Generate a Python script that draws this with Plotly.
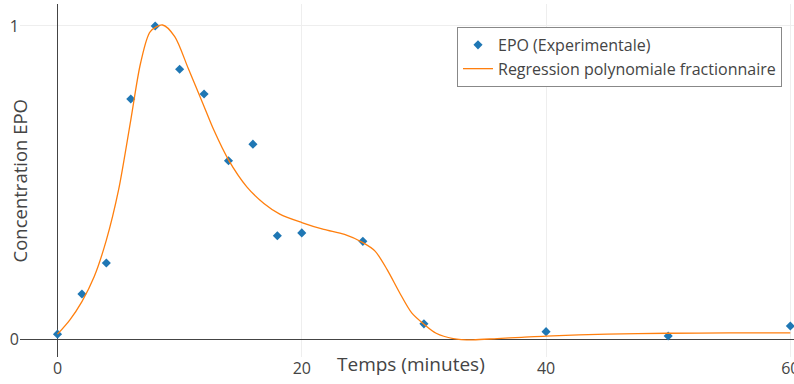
import plotly.graph_objects as go

# Experimental points
time_min = [0, 2, 4, 6, 8, 10, 12, 14, 16, 18, 20, 25, 30, 40, 50, 60]
epo_conc = [0.017, 0.145, 0.244, 0.767, 1.0, 0.862, 0.783, 0.570, 0.623,
            0.331, 0.340, 0.313, 0.050, 0.025, 0.011, 0.043]

# Fractional polynomial regression curve
fit_time = [0, 1, 2, 3, 4, 5, 6, 6.8, 7.6, 8.6, 9.6, 10.7, 11.9, 12.8,
            14, 15.5, 16.9, 18.2, 20, 21.8, 23.5, 25, 26, 27, 28, 29, 30, 31,
            32.4, 34, 36, 38, 40, 45, 50, 55, 60]
fit_conc = [0.017, 0.062, 0.121, 0.200, 0.317, 0.477, 0.700, 0.881, 0.982,
            1.003, 0.966, 0.865, 0.753, 0.668, 0.573, 0.487, 0.434,
            0.400, 0.373, 0.351, 0.335, 0.309, 0.282, 0.222, 0.150, 0.085,
            0.049, 0.020, 0.003, -0.001, 0.003, 0.007, 0.011, 0.017, 0.020,
            0.021, 0.021]

x_ticks = [0, 20, 40, 60]
y_ticks = [0, 1]

fig = go.Figure()
fig.add_trace(go.Scatter(
    x=time_min, y=epo_conc, mode="markers", name="EPO (Experimentale)",
    marker=dict(symbol="diamond", size=7, color="#1f77b4"),
))
fig.add_trace(go.Scatter(
    x=fit_time, y=fit_conc, mode="lines", name="Regression polynomiale fractionnaire",
    line=dict(color="#ff7f0e", width=1.3, shape="spline", smoothing=0.8),
))

fig.update_layout(
    template="none",
    width=794, height=384,
    margin=dict(l=20, r=0, t=4, b=27),
    paper_bgcolor="white", plot_bgcolor="white",
    font=dict(family="Open Sans", size=16, color="#444"),
    showlegend=True,
    legend=dict(
        x=0.9845, y=0.935, xanchor="right", yanchor="top",
        bordercolor="#888", borderwidth=1, bgcolor="white",
        font=dict(family="Open Sans", size=16, color="#444"),
        tracegroupgap=0,
    ),
    xaxis=dict(
        range=[-3.07, 60.3], tickvals=x_ticks, ticks="", showline=False,
        showgrid=True, gridcolor="#eee", zeroline=True, zerolinecolor="#444",
        zerolinewidth=1, tickfont=dict(size=16, color="#444"),
        ticklabeloverflow="allow",
    ),
    yaxis=dict(
        range=[-0.0558, 1.070], tickvals=y_ticks, ticks="", showline=False,
        showgrid=True, gridcolor="#eee", zeroline=True, zerolinecolor="#444",
        zerolinewidth=1, tickfont=dict(size=16, color="#444"),
    ),
    annotations=[
        dict(text="Temps (minutes)", xref="paper", yref="paper", x=0.5, y=0,
             xanchor="center", yanchor="middle", yshift=-7, xshift=4,
             showarrow=False,
             font=dict(family="Open Sans", size=19, color="#444")),
        dict(text="Concentration EPO", xref="paper", yref="paper", x=0, y=0.5,
             xanchor="center", yanchor="middle", xshift=-1, textangle=-90,
             showarrow=False,
             font=dict(family="Open Sans", size=18.5, color="#444")),
    ],
)

fig.write_html("out.html")
